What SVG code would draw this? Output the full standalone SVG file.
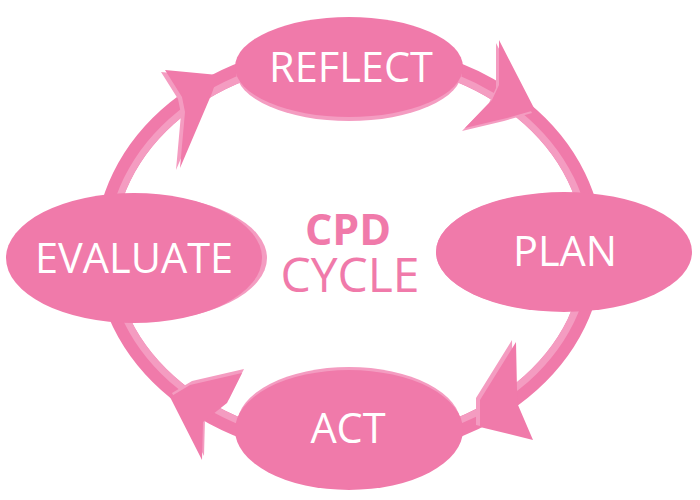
<svg xmlns="http://www.w3.org/2000/svg" width="700" height="500" viewBox="0 0 700 500">
<style>
.dk{fill:#F07AAA}
.lt{fill:#F49CC1}
.lbl{font-family:"Open Sans","Noto Sans",sans-serif;font-size:41.5px;fill:#FFFFFF;text-anchor:middle}
.ctr{font-family:"Open Sans","Noto Sans",sans-serif;fill:#F07AAA;text-anchor:middle}
</style>
<rect width="700" height="500" fill="#FFFFFF"/>
<g id="connectors">
<ellipse cx="349" cy="250" rx="244.5" ry="198.5" fill="none" stroke="#F07AAA" stroke-width="19"/>
<ellipse cx="349" cy="250" rx="238.5" ry="192.5" fill="none" stroke="#F49CC1" stroke-width="7"/>
<g id="arrow-reflect">
<polygon class="lt" transform="translate(-4,2)" points="182,97 165,70 218,75 212,93 180,168 185,112"/>
<polygon class="dk" points="182,97 165,70 218,75 212,93 180,168 185,112"/>
</g>
<g id="arrow-plan">
<polygon class="lt" transform="translate(-3,3)" points="499,85 499,40 535,110 507,118 465,128 492,100"/>
<polygon class="dk" points="499,85 499,40 535,110 507,118 465,128 492,100"/>
</g>
<g id="arrow-act">
<polygon class="lt" transform="translate(-4,-2)" points="517,390 516,342 480,400 480,427 533,440 518,405"/>
<polygon class="dk" points="517,390 516,342 480,400 480,427 533,440 518,405"/>
</g>
<g id="arrow-evaluate">
<polygon class="lt" transform="translate(2,-4)" points="190,385 242,373 227,403 203,422 202,460 170,397"/>
<polygon class="dk" points="190,385 242,373 227,403 203,422 202,460 170,397"/>
</g>
</g>
<g id="reflect">
<ellipse class="lt" cx="349" cy="71" rx="113" ry="50"/>
<ellipse class="dk" cx="349" cy="67" rx="114" ry="50"/>
<text class="lbl" x="351" y="82">REFLECT</text>
</g>
<g id="plan">
<ellipse class="lt" cx="560" cy="252" rx="124" ry="59"/>
<ellipse class="dk" cx="564" cy="252" rx="128" ry="60"/>
<text class="lbl" x="565" y="266">PLAN</text>
</g>
<g id="act">
<ellipse class="lt" cx="349" cy="425" rx="112" ry="58"/>
<ellipse class="dk" cx="349" cy="430" rx="114" ry="60"/>
<text class="lbl" x="348" y="443">ACT</text>
</g>
<g id="evaluate">
<ellipse class="lt" cx="139" cy="258" rx="128" ry="63"/>
<ellipse class="dk" cx="134" cy="258" rx="128" ry="65"/>
<text class="lbl" x="134" y="273">EVALUATE</text>
</g>
<g id="title">
<text class="ctr" x="348" y="245" font-size="43" font-weight="bold">CPD</text>
<text class="ctr" x="350" y="292" font-size="48">CYCLE</text>
</g>
</svg>
